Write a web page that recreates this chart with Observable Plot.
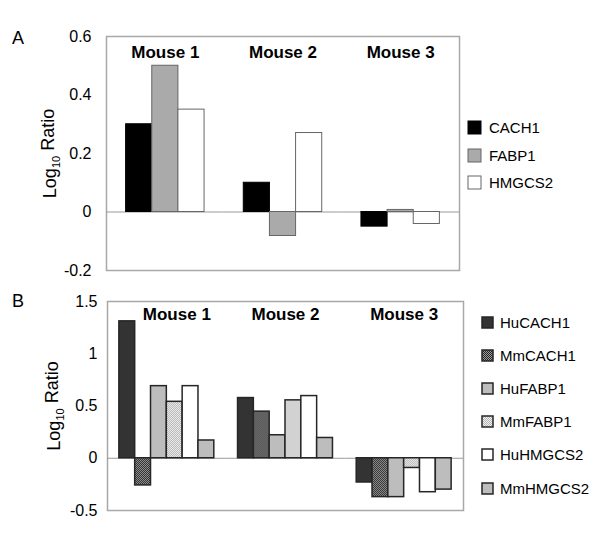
<!DOCTYPE html>
<html><head><meta charset="utf-8">
<script src="https://cdn.jsdelivr.net/npm/d3@7"></script>
<script src="https://cdn.jsdelivr.net/npm/@observablehq/plot@0.6"></script>
<style>
body{margin:0;background:#fff;}
#fig{position:relative;width:600px;height:545px;font-family:"Liberation Sans",Arial,Helvetica,sans-serif;color:#000;overflow:hidden;}
.panel{position:absolute;font-size:18px;line-height:1;}
.legend{position:absolute;font-size:15px;}
.item{display:flex;align-items:center;}
.item svg{flex:none;}
</style>
</head><body>
<svg width="0" height="0" style="position:absolute">
  <defs>
    <pattern id="pMmCACH1" width="2" height="2" patternUnits="userSpaceOnUse">
      <rect width="2" height="2" fill="#a0a0a0"/>
      <rect width="1" height="1" fill="#222"/>
      <rect x="1" y="1" width="1" height="1" fill="#222"/>
    </pattern>
    <pattern id="pMmFABP1" width="2" height="2" patternUnits="userSpaceOnUse">
      <rect width="2" height="2" fill="#f0f0f0"/>
      <rect width="1" height="1" fill="#b4b4b4"/>
      <rect x="1" y="1" width="1" height="1" fill="#b4b4b4"/>
    </pattern>
  </defs>
</svg>
<div id="fig"></div>
<script>
// ---- data ----
const mice = ["Mouse 1", "Mouse 2", "Mouse 3"];

const genesA = ["CACH1", "FABP1", "HMGCS2"];
const cach1A  = [0.30, 0.10, -0.05];
const fabp1A  = [0.50, -0.082, 0.007];
const hmgcs2A = [0.35, 0.27, -0.041];
const ticksA = [-0.2, 0, 0.2, 0.4, 0.6];

const genesB = ["HuCACH1", "MmCACH1", "HuFABP1", "MmFABP1", "HuHMGCS2", "MmHMGCS2"];
const huCACH1  = [1.31, 0.576, -0.232];
const mmCACH1  = [-0.26, 0.446, -0.372];
const huFABP1  = [0.69, 0.22, -0.372];
const mmFABP1  = [0.54, 0.554, -0.093];
const huHMGCS2 = [0.69, 0.595, -0.325];
const mmHMGCS2 = [0.17, 0.194, -0.30];
const ticksB = [-0.5, 0, 0.5, 1, 1.5];

const yLabel = "Log10 Ratio";

// ---- styles ----
const fillsA = ["#000000", "#aaaaaa", "#ffffff"];
const strokesA = ["#000000", "#666666", "#666666"];
const fillsB = ["#333333", "url(#pMmCACH1)", "#bdbdbd", "url(#pMmFABP1)", "#ffffff", "#bdbdbd"];
const font = '"Liberation Sans", Arial, Helvetica, sans-serif';

const seriesA = [cach1A, fabp1A, hmgcs2A];
const seriesB = [huCACH1, mmCACH1, huFABP1, mmFABP1, huHMGCS2, mmHMGCS2];
const dataA = genesA.flatMap((g, i) => mice.map((m, j) => ({mouse: m, gene: g, value: seriesA[i][j]})));
const dataB = genesB.flatMap((g, i) => mice.map((m, j) => ({mouse: m, gene: g, value: seriesB[i][j]})));

const fig = document.getElementById("fig");

function fixLabel(svg, size) {
  const t = svg.querySelector('g[aria-label="y-axis label"] text');
  if (!t) return;
  t.textContent = "";
  t.setAttribute("font-size", size);
  const ns = "http://www.w3.org/2000/svg";
  const a = document.createElementNS(ns, "tspan"); a.textContent = "Log";
  const b = document.createElementNS(ns, "tspan"); b.textContent = "10";
  b.setAttribute("font-size", "11px"); b.setAttribute("dy", "0.3em");
  const c = document.createElementNS(ns, "tspan"); c.textContent = " Ratio";
  c.setAttribute("dy", "-0.3em");
  t.append(a, b, c);
}

// facet band geometry (round: false): outer offset of first band, half the inner gap
function facetGeom(width, ml, mr, n, pin, pout) {
  const step = (width - ml - mr) / (n - pin + 2 * pout);
  return {outer: step * pout, halfGap: step * pin / 2};
}

const WA = 470, MLA = 106, MRA = 11;
const gA = facetGeom(WA, MLA, MRA, mice.length, 1/3, 1/6);
const plotA = Plot.plot({
  width: WA, height: 285,
  marginLeft: MLA, marginRight: MRA, marginTop: 36, marginBottom: 15,
  style: {fontFamily: font, fontSize: "16px", background: "transparent", color: "#000"},
  fx: {domain: mice, paddingInner: 1/3, paddingOuter: 1/6, round: false, axis: null, label: null},
  x: {domain: genesA, padding: 0, round: false, axis: null},
  y: {domain: [-0.2, 0.6], ticks: ticksA, tickFormat: d => String(d), tickSize: 0, tickPadding: 15 + gA.outer,
      label: yLabel, labelAnchor: "center", labelOffset: 63 + gA.outer, labelArrow: "none"},
  color: {domain: genesA, range: fillsA},
  marks: [
    Plot.frame({facet: "super", stroke: "#a8a8a8", strokeWidth: 1.5, insetLeft: -gA.outer, insetRight: -gA.outer}),
    Plot.ruleY([0], {stroke: "#999", insetLeft: -gA.halfGap, insetRight: -gA.halfGap}),
    Plot.barY(dataA, {fx: "mouse", x: "gene", y: "value", fill: "gene",
      stroke: d => strokesA[genesA.indexOf(d.gene)], strokeWidth: 1}),
    Plot.text(mice, {fx: d => d, text: d => d, frameAnchor: "top", dy: 9, fontWeight: "bold", fontSize: 17})
  ]
});
plotA.style.position = "absolute"; plotA.style.left = "0px"; plotA.style.top = "0px";
fixLabel(plotA, "18px");
fig.appendChild(plotA);

const WB = 470, MLB = 107, MRB = 7;
const gB = facetGeom(WB, MLB, MRB, mice.length, 0.2, 0.1);
const plotB = Plot.plot({
  width: WB, height: 260,
  marginLeft: MLB, marginRight: MRB, marginTop: 16, marginBottom: 35,
  style: {fontFamily: font, fontSize: "16px", background: "transparent", color: "#000"},
  fx: {domain: mice, paddingInner: 0.2, paddingOuter: 0.1, round: false, axis: null, label: null},
  x: {domain: genesB, padding: 0, round: false, axis: null},
  y: {domain: [-0.5, 1.5], ticks: ticksB, tickFormat: d => String(d), tickSize: 0, tickPadding: 10 + gB.outer,
      label: yLabel, labelAnchor: "center", labelOffset: 60 + gB.outer, labelArrow: "none"},
  color: {domain: genesB, range: fillsB},
  marks: [
    Plot.frame({facet: "super", stroke: "#a8a8a8", strokeWidth: 1.5, insetLeft: -gB.outer, insetRight: -gB.outer}),
    Plot.ruleY([0], {stroke: "#999", insetLeft: -gB.halfGap, insetRight: -gB.halfGap}),
    Plot.barY(dataB, {fx: "mouse", x: "gene", y: "value", fill: "gene", stroke: "#262626", strokeWidth: 1.5}),
    Plot.text(mice.slice(0, 1), {fx: d => d, text: d => d, frameAnchor: "top", dy: 6, dx: 10, fontWeight: "bold", fontSize: 17}),
    Plot.text(mice.slice(1), {fx: d => d, text: d => d, frameAnchor: "top", dy: 6, fontWeight: "bold", fontSize: 17})
  ]
});
plotB.style.position = "absolute"; plotB.style.left = "0px"; plotB.style.top = "285px";
fixLabel(plotB, "18px");
fig.appendChild(plotB);

// panel letters
for (const [txt, top] of [["A", 29], ["B", 291.5]]) {
  const d = document.createElement("div");
  d.className = "panel"; d.textContent = txt;
  d.style.left = "12px"; d.style.top = top + "px";
  fig.appendChild(d);
}

// legends
function legend(names, fills, strokes, opts) {
  const box = document.createElement("div");
  box.className = "legend";
  box.style.left = opts.left + "px"; box.style.top = opts.top + "px";
  names.forEach((n, i) => {
    const it = document.createElement("div");
    it.className = "item"; it.style.height = opts.step + "px";
    const s = opts.size;
    it.innerHTML = `<svg width="${s + 2}" height="${s + 2}" style="margin-right:${opts.gap}px"><rect x="1" y="1" width="${s}" height="${s}" fill="${fills[i]}" stroke="${strokes[i]}" stroke-width="${opts.sw}"/></svg><span>${n}</span>`;
    box.appendChild(it);
  });
  fig.appendChild(box);
}
legend(genesA, fillsA, strokesA, {left: 467, top: 113.9, step: 27.6, size: 13, gap: 7, sw: 1});
legend(genesB, fillsB, genesB.map(() => "#262626"), {left: 481, top: 306, step: 33.1, size: 11, gap: 6, sw: 1.5});
</script>
</body></html>
